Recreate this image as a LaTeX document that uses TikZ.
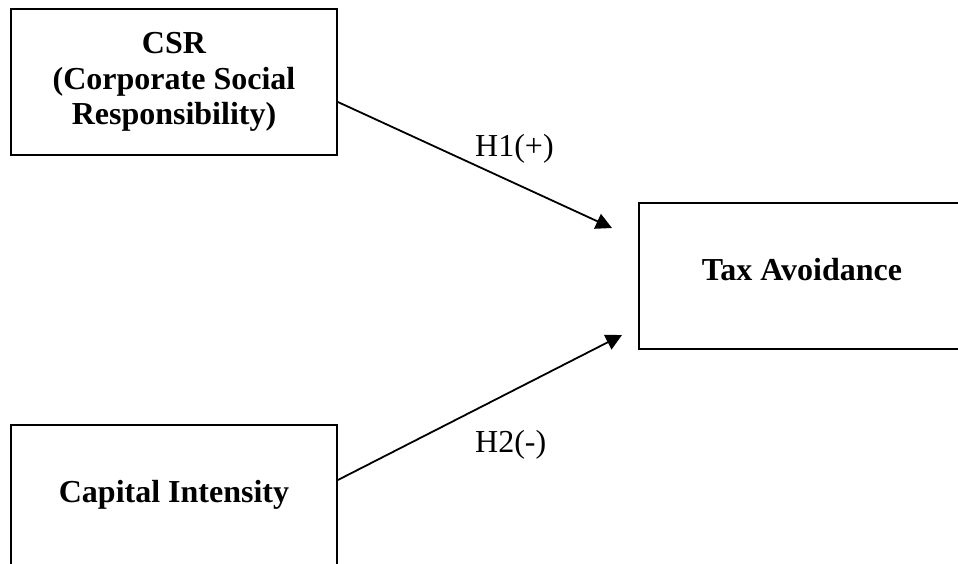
\documentclass[tikz,border=0pt]{standalone}
\usepackage{fontspec}
\setmainfont{Liberation Serif}
\usetikzlibrary{arrows.meta}
\begin{document}
\begin{tikzpicture}[x=1pt,y=-1pt,
  varbox/.style={draw=black, line width=1.8pt, rectangle, minimum width=326pt, minimum height=146pt,
    inner sep=0pt, align=center, font=\fontsize{32}{35.5}\selectfont\bfseries},
  hyplabel/.style={inner sep=0pt, anchor=base west, font=\fontsize{32}{36}\selectfont},
  link/.style={line width=1.8pt, -{Triangle[length=16pt,width=16pt]}}]
\useasboundingbox (0,0) rectangle (958,564);
\clip (0,0) rectangle (958,564);
\node[varbox] (csr) at (174,82) {CSR\\(Corporate Social\\Responsibility)};
\node[varbox, text height=22pt, text depth=14pt] (tax) at (802,276) {Tax Avoidance};
\node[varbox, text height=22pt, text depth=14pt] (cap) at (174,498) {Capital Intensity};
\coordinate (h1end) at (612,228);
\coordinate (h2end) at (622,335);
\draw[link] ([yshift=-20pt]csr.east) -- (h1end);
\draw[link] ([yshift=18pt]cap.east) -- (h2end);
\node[hyplabel] (h1) at (475,157) {H1(+)};
\node[hyplabel] (h2) at (475,452) {H2(-)};
\end{tikzpicture}
\end{document}
